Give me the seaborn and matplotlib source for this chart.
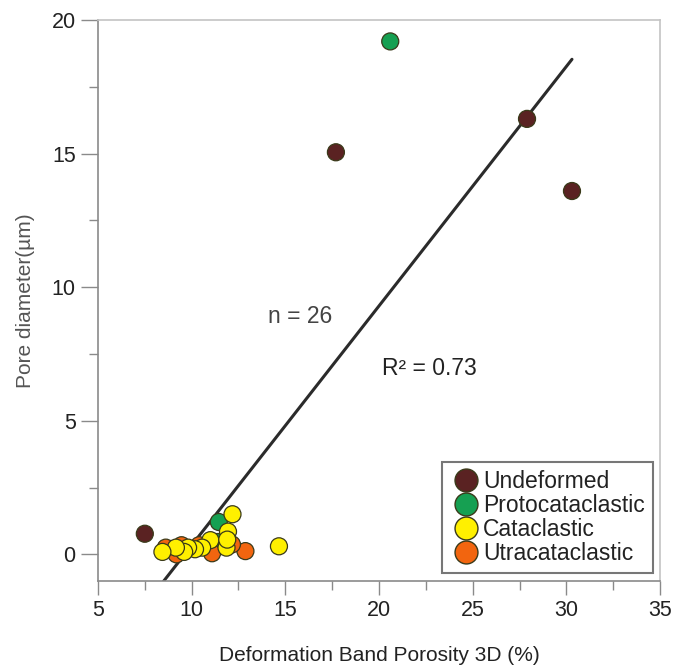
import numpy as np
import pandas as pd
import matplotlib
matplotlib.use("Agg")
import matplotlib.pyplot as plt
from matplotlib.lines import Line2D
from matplotlib.ticker import MultipleLocator
import seaborn as sns

# Deformation band porosity (%) and pore diameter (µm) by deformation class
undeformed_x = [7.5, 17.7, 27.9, 30.3]
undeformed_y = [0.77, 15.05, 16.3, 13.6]

protocataclastic_x = [20.6, 11.45, 11.38]
protocataclastic_y = [19.2, 1.21, 0.46]

cataclastic_x = [12.18, 11.94, 14.66, 11.86, 11.0, 10.56, 10.18, 9.81, 9.60, 9.16, 8.44, 11.9]
cataclastic_y = [1.50, 0.85, 0.30, 0.25, 0.53, 0.25, 0.19, 0.25, 0.09, 0.25, 0.09, 0.55]

ultracataclastic_x = [12.87, 12.15, 11.09, 10.4, 9.46, 9.19, 8.62]
ultracataclastic_y = [0.12, 0.37, 0.04, 0.34, 0.34, 0.0, 0.25]

classes = ["Undeformed", "Protocataclastic", "Cataclastic", "Utracataclastic"]
class_colors = ["#5a2222", "#16a052", "#fff000", "#f2650f"]

n_label = "n = 26"
r2_label = "R² = 0.73"

frames = []
for name, xs, ys in [
    ("Undeformed", undeformed_x, undeformed_y),
    ("Protocataclastic", protocataclastic_x, protocataclastic_y),
    ("Utracataclastic", ultracataclastic_x, ultracataclastic_y),
    ("Cataclastic", cataclastic_x, cataclastic_y),
]:
    frames.append(pd.DataFrame({"porosity": xs, "pore": ys, "cls": name}))
df = pd.concat(frames, ignore_index=True)

sns.set_style("white")
plt.rcParams["font.family"] = ["Liberation Sans", "DejaVu Sans"]

fig = plt.figure(figsize=(6.78, 6.68), dpi=100)
ax = fig.add_axes([0.1445, 0.1302, 0.8290, 0.8398])

palette = dict(zip(classes, class_colors))

# Least-squares trend over all samples
sns.regplot(data=df, x="porosity", y="pore", scatter=False, ci=None,
            truncate=True, ax=ax,
            line_kws=dict(color="#2b2b2b", lw=2.2, zorder=2))

sns.scatterplot(data=df, x="porosity", y="pore", hue="cls", palette=palette,
                s=150, edgecolor="#3a3a1a", linewidth=0.9, ax=ax,
                legend=False, zorder=3)

ax.set_xlim(5, 35)
ax.set_ylim(-1, 20)
ax.xaxis.set_major_locator(MultipleLocator(5))
ax.xaxis.set_minor_locator(MultipleLocator(2.5))
ax.yaxis.set_major_locator(MultipleLocator(5))
ax.yaxis.set_minor_locator(MultipleLocator(2.5))
ax.set_yticks([0, 5, 10, 15, 20])

ax.tick_params(axis="both", which="major", direction="out", width=1,
               color="#8a8a8a", labelsize=15.5, labelcolor="#222222", pad=4)
ax.tick_params(axis="x", which="major", length=10)
ax.tick_params(axis="y", which="major", length=12)
ax.tick_params(axis="both", which="minor", direction="out", length=6.5,
               width=1, color="#8a8a8a")
ax.tick_params(axis="x", which="both", bottom=True)
ax.tick_params(axis="y", which="both", left=True)

for side in ["left", "bottom"]:
    ax.spines[side].set_color("#8a8a8a")
    ax.spines[side].set_linewidth(1.2)
for side in ["top", "right"]:
    ax.spines[side].set_color("#c4c4c4")
    ax.spines[side].set_linewidth(1.2)

ax.set_xlabel("Deformation Band Porosity 3D (%)", fontsize=15,
              color="#222222", labelpad=18)
ax.set_ylabel("Pore diameter(µm)", fontsize=15, color="#555555",
              labelpad=12)

ax.text(15.8, 8.9, n_label, fontsize=16.5, color="#444444",
        ha="center", va="center")
ax.text(22.7, 6.95, r2_label, fontsize=16.5, color="#222222",
        ha="center", va="center")

handles = [Line2D([0], [0], marker="o", linestyle="none", markersize=16.5,
                  markerfacecolor=c, markeredgecolor="#3a3a1a",
                  markeredgewidth=1.0) for c in class_colors]
leg = ax.legend(handles, classes, loc="lower right",
                bbox_to_anchor=(0.9875, 0.014), fontsize=16.5,
                frameon=True, fancybox=False, borderpad=0.35,
                handletextpad=0.05, labelspacing=0.05, handlelength=1.4,
                borderaxespad=0.0)
leg.get_frame().set_edgecolor("#555555")
leg.get_frame().set_linewidth(1.5)
for t in leg.get_texts():
    t.set_color("#222222")

fig.savefig("out.png", dpi=100, facecolor="white")
